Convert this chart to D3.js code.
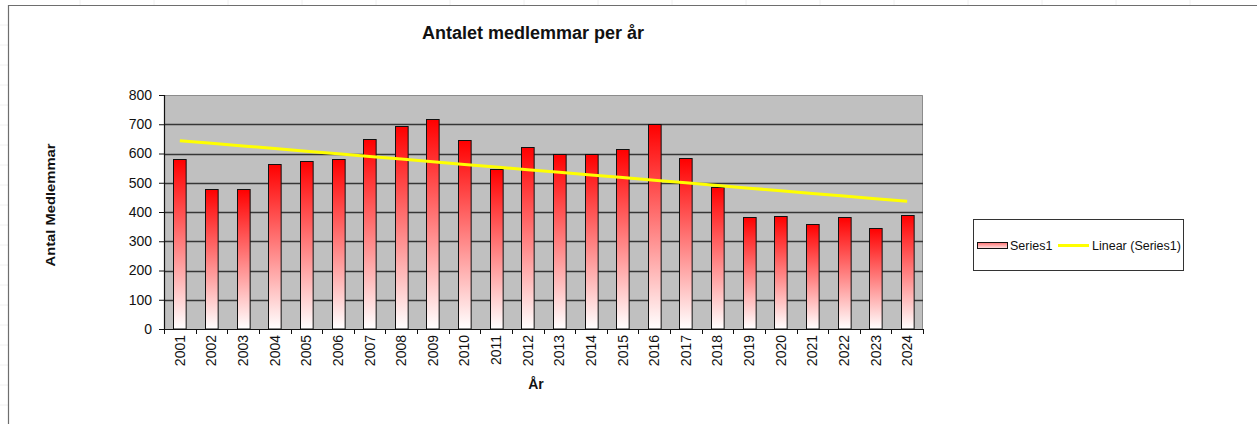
<!DOCTYPE html>
<html>
<head>
<meta charset="utf-8">
<script src="https://cdn.jsdelivr.net/npm/d3@7"></script>
<style>
  body { margin: 0; background: #fff; }
  text { font-family: "Liberation Sans", Arial, sans-serif; }
</style>
</head>
<body>
<div class="chart-area"></div>
<script>
// data
const years = ["2001","2002","2003","2004","2005","2006","2007","2008","2009","2010","2011","2012",
               "2013","2014","2015","2016","2017","2018","2019","2020","2021","2022","2023","2024"];
const members = [580, 477, 477, 564, 575, 580, 651, 694, 718, 646, 548, 622,
                 600, 600, 615, 702, 583, 487, 383, 386, 358, 383, 346, 390];
const yTicks = [0, 100, 200, 300, 400, 500, 600, 700, 800];

let width = 1257;
let height = 424;

const svg = d3.select(".chart-area").append("svg")
  .attr("width", width)
  .attr("height", height)
  .attr("viewBox", [0, 0, width, height]);

// faint spreadsheet cell lines behind the chart object
svg.append("g").selectAll("line")
  .data(d3.range(80, width, 74))
  .join("line")
  .attr("x1", d => d).attr("x2", d => d)
  .attr("y1", 0).attr("y2", 5)
  .attr("stroke", "#f0f0f0");
svg.append("g").selectAll("line")
  .data(d3.range(25, height, 20))
  .join("line")
  .attr("x1", 0).attr("x2", 8)
  .attr("y1", d => d).attr("y2", d => d)
  .attr("stroke", "#f0f0f0");

// chart area frame (runs off the window right and bottom)
svg.append("path")
  .attr("d", `M8.5,${height} V5.5 H${width}`)
  .attr("fill", "none")
  .attr("stroke", "#6e6e6e")
  .attr("stroke-width", 1.2);

const plot = { left: 164, right: 923, top: 95, bottom: 329 };

const x = d3.scaleBand()
  .domain(years)
  .range([plot.left, plot.right])
  .paddingInner(0.6)
  .paddingOuter(0.3);

const y = d3.scaleLinear()
  .domain([0, 800])
  .range([plot.bottom, plot.top]);

// gradient for bars
const defs = svg.append("defs");
const grad = defs.append("linearGradient")
  .attr("id", "barGrad")
  .attr("x1", 0).attr("y1", 0).attr("x2", 0).attr("y2", 1);
grad.append("stop").attr("offset", "0%").attr("stop-color", "#ff0000");
grad.append("stop").attr("offset", "100%").attr("stop-color", "#ffffff");

// plot area
svg.append("rect")
  .attr("x", plot.left)
  .attr("y", plot.top)
  .attr("width", plot.right - plot.left)
  .attr("height", plot.bottom - plot.top)
  .attr("fill", "#c0c0c0");
svg.append("path")
  .attr("d", `M${plot.left},${plot.top + 0.5} H${plot.right - 0.5} V${plot.bottom}`)
  .attr("fill", "none")
  .attr("stroke", "#8c8c8c");

// gridlines
svg.append("g").selectAll("line")
  .data(yTicks.filter(d => d > 0 && d < 800))
  .join("line")
  .attr("x1", plot.left).attr("x2", plot.right)
  .attr("y1", d => Math.round(y(d)) + 0.5).attr("y2", d => Math.round(y(d)) + 0.5)
  .attr("stroke", "#363636")
  .attr("stroke-width", 1.3);

// bars
svg.append("g").selectAll("rect")
  .data(members)
  .join("rect")
  .attr("x", (d, i) => Math.round(x(years[i])) + 0.5)
  .attr("y", d => Math.round(y(d)) + 0.5)
  .attr("width", x.bandwidth())
  .attr("height", d => y(0) - Math.round(y(d)) - 0.5)
  .attr("fill", "url(#barGrad)")
  .attr("stroke", "#111")
  .attr("stroke-width", 1);

// linear trend (least squares on the bar values)
const idx = d3.range(members.length);
const mx = d3.mean(idx), my = d3.mean(members);
const slope = d3.sum(idx, i => (i - mx) * (members[i] - my)) / d3.sum(idx, i => (i - mx) ** 2);
const icpt = my - slope * mx;
const trend = idx.map(i => icpt + slope * i);

svg.append("path")
  .datum(trend)
  .attr("d", d3.line()
    .x((d, i) => x(years[i]) + x.bandwidth() / 2)
    .y(d => y(d)))
  .attr("fill", "none")
  .attr("stroke", "#ffff00")
  .attr("stroke-width", 3);

// y axis
const yAxis = svg.append("g")
  .attr("transform", `translate(${plot.left},0)`)
  .call(d3.axisLeft(y).tickValues(yTicks).tickSize(5).tickPadding(7));
yAxis.select(".domain").attr("stroke", "#111").attr("stroke-width", 1.2);
yAxis.selectAll(".tick line").attr("stroke", "#111");
yAxis.selectAll("text")
  .attr("font-size", "14px")
  .attr("fill", "#111")
  .style("font-family", "'Liberation Sans', Arial, sans-serif");

// x axis: ticks between categories
const bounds = d3.range(years.length + 1).map(i => plot.left + i * (plot.right - plot.left) / years.length);
svg.append("line")
  .attr("x1", plot.left).attr("x2", plot.right)
  .attr("y1", plot.bottom + 0.5).attr("y2", plot.bottom + 0.5)
  .attr("stroke", "#111").attr("stroke-width", 1.2);
svg.append("g").selectAll("line")
  .data(bounds)
  .join("line")
  .attr("x1", d => Math.round(d) + 0.5).attr("x2", d => Math.round(d) + 0.5)
  .attr("y1", plot.bottom).attr("y2", plot.bottom + 5)
  .attr("stroke", "#111");

svg.append("g").selectAll("text")
  .data(years)
  .join("text")
  .attr("transform", d => `translate(${x(d) + x.bandwidth() / 2 + 5},${plot.bottom + 6}) rotate(-90)`)
  .attr("text-anchor", "end")
  .attr("font-size", "14px")
  .attr("fill", "#111")
  .text(d => d);

// titles
svg.append("text")
  .attr("x", 533)
  .attr("y", 39)
  .attr("text-anchor", "middle")
  .attr("font-size", "18px")
  .attr("font-weight", "bold")
  .attr("fill", "#111")
  .text("Antalet medlemmar per år");

svg.append("text")
  .attr("transform", "translate(55,205) rotate(-90)")
  .attr("text-anchor", "middle")
  .attr("font-size", "13px")
  .attr("font-weight", "bold")
  .attr("textLength", 123)
  .attr("lengthAdjust", "spacingAndGlyphs")
  .attr("fill", "#111")
  .text("Antal Medlemmar");

svg.append("text")
  .attr("x", 536)
  .attr("y", 389)
  .attr("text-anchor", "middle")
  .attr("font-size", "14px")
  .attr("font-weight", "bold")
  .attr("fill", "#111")
  .text("År");

// legend
const lg = svg.append("g").attr("transform", "translate(973,219)");
lg.append("rect")
  .attr("x", 0.5).attr("y", 0.5)
  .attr("width", 210).attr("height", 51)
  .attr("fill", "#fff")
  .attr("stroke", "#333");
const lgGrad = defs.append("linearGradient")
  .attr("id", "lgGrad")
  .attr("x1", 0).attr("y1", 0).attr("x2", 0).attr("y2", 1);
lgGrad.append("stop").attr("offset", "0%").attr("stop-color", "#ff7070");
lgGrad.append("stop").attr("offset", "100%").attr("stop-color", "#ffe8e8");
lg.append("rect")
  .attr("x", 4.5).attr("y", 23.5)
  .attr("width", 30).attr("height", 6)
  .attr("fill", "url(#lgGrad)")
  .attr("stroke", "#111");
lg.append("text")
  .attr("x", 37).attr("y", 30.5)
  .attr("font-size", "12.5px")
  .attr("fill", "#111")
  .text("Series1");
lg.append("line")
  .attr("x1", 85).attr("x2", 116)
  .attr("y1", 26.5).attr("y2", 26.5)
  .attr("stroke", "#ffff00")
  .attr("stroke-width", 3);
lg.append("text")
  .attr("x", 119).attr("y", 30.5)
  .attr("font-size", "12.5px")
  .attr("fill", "#111")
  .text("Linear (Series1)");
</script>
</body>
</html>
